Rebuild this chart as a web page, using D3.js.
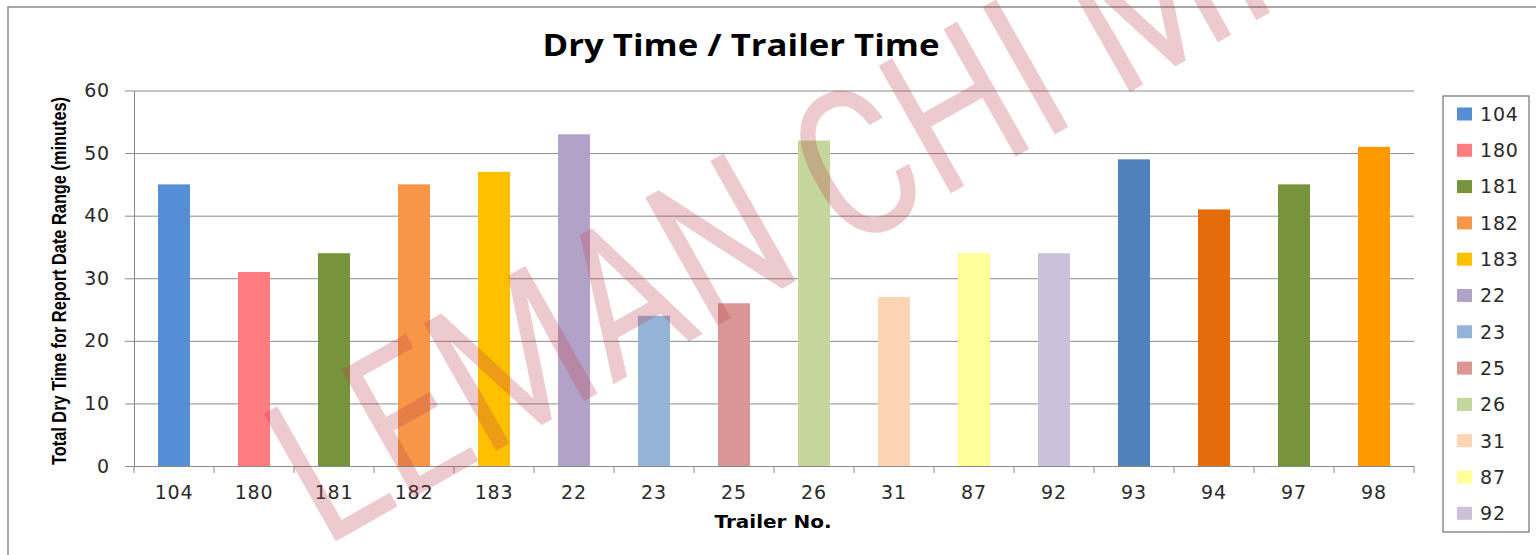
<!DOCTYPE html>
<html>
<head>
<meta charset="utf-8">
<script src="https://cdn.jsdelivr.net/npm/d3@7"></script>
<style>
  body { margin: 0; background: #fff; }
  svg { display: block; }
</style>
</head>
<body>
<div id="chart"></div>
<script>
// data
const trailers = ["104", "180", "181", "182", "183", "22", "23", "25", "26", "31", "87", "92", "93", "94", "97", "98"];
const dryMinutes = [45, 31, 34, 45, 47, 53, 24, 26, 52, 27, 34, 34, 49, 41, 45, 51];
const barColors = ["#558ed5", "#ff7c80", "#77933c", "#f79646", "#ffc000", "#b3a2c7",
                   "#95b3d7", "#d99694", "#c3d69b", "#fcd5b5", "#ffff99", "#ccc1da",
                   "#4f81bd", "#e46c0a", "#77933c", "#ff9900"];
const yTicks = [0, 10, 20, 30, 40, 50, 60];
// the legend box in the original is cut off after the 12th entry
const legendItems = trailers.slice(0, 12);

const W = 1536, H = 555;
const margin = {top: 90.5, left: 134, right: 122, bottom: 89};
const width = W - margin.left - margin.right,
      height = H - margin.top - margin.bottom;
const gridColor = "#8a8a8a";

const svg = d3.select("#chart").append("svg")
  .attr("width", W)
  .attr("height", H);

// outer chart frame (runs off the right and bottom edges)
svg.append("rect")
  .attr("x", 8).attr("y", 7)
  .attr("width", W + 20).attr("height", H + 20)
  .attr("fill", "none")
  .attr("stroke", "#8c8c8c")
  .attr("stroke-width", 1.5);

svg.append("text")
  .attr("x", 741).attr("y", 56)
  .attr("text-anchor", "middle")
  .style("font-family", "'Open Sans', 'DejaVu Sans', sans-serif")
  .style("font-weight", "bold")
  .style("font-size", "31px")
  .attr("textLength", 397)
  .attr("lengthAdjust", "spacingAndGlyphs")
  .text("Dry Time / Trailer Time");

const g = svg.append("g")
  .attr("transform", "translate(" + margin.left + "," + margin.top + ")");

const x = d3.scaleBand()
  .domain(trailers)
  .range([0, width])
  .paddingInner(0.6)
  .paddingOuter(0.3);

const y = d3.scaleLinear()
  .domain([0, 60])
  .range([height, 0]);

// gridlines + y axis
const yAxis = g.append("g")
  .call(d3.axisLeft(y).tickValues(yTicks).tickSize(9).tickPadding(15).tickSizeOuter(0));
yAxis.select(".domain").attr("stroke", gridColor);
yAxis.selectAll(".tick line").attr("stroke", gridColor);
yAxis.selectAll(".tick").append("line")
  .attr("x1", 0).attr("x2", width)
  .attr("stroke", gridColor);
yAxis.selectAll("text")
  .style("font-family", "'DejaVu Sans', Verdana, sans-serif")
  .style("font-size", "19px")
  .style("letter-spacing", "0.8px")
  .attr("fill", "#2a2a2a");

// bars
g.selectAll(".bar")
  .data(trailers)
  .enter().append("rect")
  .attr("class", "bar")
  .attr("x", d => x(d))
  .attr("y", (d, i) => y(dryMinutes[i]))
  .attr("width", x.bandwidth())
  .attr("height", (d, i) => height - y(dryMinutes[i]))
  .attr("fill", (d, i) => barColors[i]);

// x axis: labels under bars, ticks between categories
const xAxis = g.append("g")
  .attr("transform", "translate(0," + height + ")")
  .call(d3.axisBottom(x).tickSize(0).tickPadding(20).tickSizeOuter(0));
xAxis.select(".domain").attr("stroke", gridColor);
xAxis.selectAll("text")
  .style("font-family", "'DejaVu Sans', Verdana, sans-serif")
  .style("font-size", "19px")
  .style("letter-spacing", "0.8px")
  .attr("fill", "#2a2a2a");
xAxis.selectAll(".sep")
  .data(d3.range(trailers.length + 1))
  .enter().append("line")
  .attr("class", "sep")
  .attr("x1", i => i * x.step()).attr("x2", i => i * x.step())
  .attr("y1", 0).attr("y2", 7)
  .attr("stroke", gridColor);

svg.append("text")
  .attr("x", 773).attr("y", 528)
  .attr("text-anchor", "middle")
  .style("font-family", "'DejaVu Sans', sans-serif")
  .style("font-weight", "bold")
  .style("font-size", "17px")
  .attr("textLength", 117)
  .attr("lengthAdjust", "spacingAndGlyphs")
  .text("Trailer No.");

svg.append("text")
  .attr("transform", "translate(66,281) rotate(-90)")
  .attr("text-anchor", "middle")
  .style("font-family", "'Liberation Sans Narrow', 'Liberation Sans', sans-serif")
  .style("font-weight", "bold")
  .style("font-size", "20px")
  .attr("textLength", 368)
  .attr("lengthAdjust", "spacingAndGlyphs")
  .text("Total Dry Time for Report Date Range (minutes)");

// legend
const legend = svg.append("g").attr("transform", "translate(1443,96)");
legend.append("rect")
  .attr("width", 86).attr("height", 436)
  .attr("fill", "#fff")
  .attr("stroke", "#555")
  .attr("stroke-width", 1);
const item = legend.selectAll(".item")
  .data(legendItems)
  .enter().append("g")
  .attr("class", "item")
  .attr("transform", (d, i) => "translate(0," + (18 + i * 36.3) + ")");
item.append("rect")
  .attr("x", 14).attr("y", -6.5)
  .attr("width", 15).attr("height", 13)
  .attr("fill", (d, i) => barColors[i]);
item.append("text")
  .attr("x", 37).attr("dy", "0.36em")
  .style("font-family", "'DejaVu Sans', Verdana, sans-serif")
  .style("font-size", "19px")
  .style("letter-spacing", "0.8px")
  .attr("fill", "#2a2a2a")
  .text(d => d);

// watermark across the chart
svg.append("text")
  .attr("transform", "translate(324,548) rotate(-29.5) scale(0.8,1)")
  .style("font-family", "Roboto, 'DejaVu Sans', sans-serif")
  .style("font-weight", 400)
  .style("font-size", "206px")
  .style("letter-spacing", "1px")
  .attr("fill", "#c0404f")
  .attr("opacity", 0.27)
  .text("LEMAN CHI MINH");
</script>
</body>
</html>
